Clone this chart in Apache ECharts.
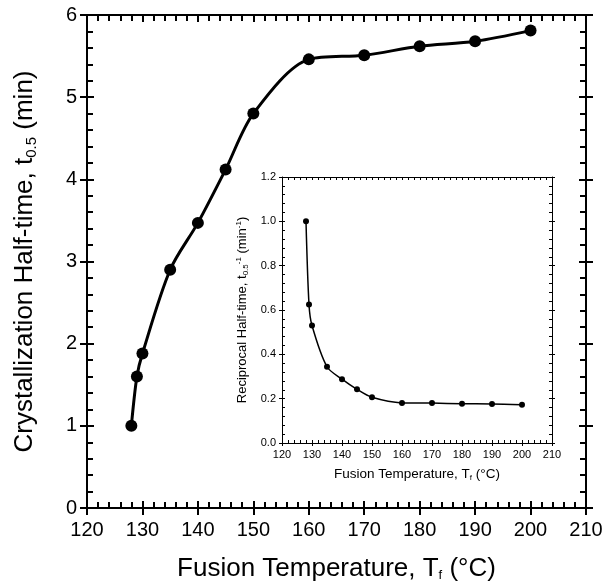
<!DOCTYPE html>
<html>
<head>
<meta charset="utf-8">
<script src="https://cdn.jsdelivr.net/npm/echarts@6/dist/echarts.min.js"></script>
<style>html,body{margin:0;padding:0;background:#fff}#c{width:613px;height:585px}</style>
</head>
<body>
<div id="c"></div>
<script>
// ---- data ----
const fusionTemp = [128, 129, 130, 135, 140, 145, 150, 160, 170, 180, 190, 200];
const halfTime = [1.0, 1.6, 1.88, 2.9, 3.47, 4.12, 4.8, 5.46, 5.51, 5.62, 5.68, 5.81];
const insetTemp = [128, 129, 130, 135, 140, 145, 150, 160, 170, 180, 190, 200];
const reciprocal = [1.0, 0.625, 0.53, 0.344, 0.288, 0.242, 0.206, 0.181, 0.180, 0.177, 0.176, 0.172];
const mainXRange = [120, 210, 10];
const mainYRange = [0, 6, 1];
const insetXRange = [120, 210, 10];
const insetYRange = [0, 1.2, 0.2];

const FONT = 'Liberation Sans, Arial, Helvetica, sans-serif';
const BLACK = '#000';

function axisSet(dim, grid, pos, range, st, label, name) {
  const base = {
    type: 'value', gridIndex: grid, position: pos,
    min: range[0], max: range[1], interval: range[2],
    splitLine: { show: false }
  };
  const ls = { color: BLACK, width: st.lw };
  const a = Object.assign({}, base, {
    axisLine: { show: true, onZero: false, lineStyle: ls },
    axisTick: { show: true, inside: true, length: st.tick, lineStyle: ls },
    minorTick: { show: true, splitNumber: st.minor, length: st.minorLen, lineStyle: ls },
    axisLabel: label ? Object.assign({ show: true, color: BLACK, fontFamily: FONT }, label) : { show: false }
  });
  if (name) Object.assign(a, name);
  const b = Object.assign({}, base, {
    axisLine: { show: false },
    axisTick: { show: true, inside: false, length: st.tick, lineStyle: ls },
    minorTick: { show: false },
    axisLabel: { show: false }
  });
  return [a, b];
}

const mainSt = { lw: 2, tick: 7, minor: 5, minorLen: 6 };
const insetSt = { lw: 1, tick: 3, minor: 5, minorLen: 3 };

const xAxes = [].concat(
  axisSet('x', 0, 'bottom', mainXRange, mainSt, { fontSize: 20, margin: 12 }, {
    name: 'Fusion Temperature, T{sub|f} (°C)', nameLocation: 'middle', nameGap: 47,
    nameTextStyle: { fontSize: 26, fontFamily: FONT, color: BLACK,
      rich: { sub: { fontSize: 13, fontFamily: FONT, color: BLACK, padding: [14, 0, 0, 0] } } }
  }),
  axisSet('x', 0, 'top', mainXRange, mainSt, null, null),
  axisSet('x', 1, 'bottom', insetXRange, insetSt, { fontSize: 11, margin: 6 }, {
    name: 'Fusion Temperature, T{sub|f} (°C)', nameLocation: 'middle', nameGap: 24,
    nameTextStyle: { fontSize: 13.5, fontFamily: FONT, color: BLACK,
      rich: { sub: { fontSize: 8, fontFamily: FONT, color: BLACK, padding: [7, 0, 0, 0] } } }
  }),
  axisSet('x', 1, 'top', insetXRange, insetSt, null, null)
);

const yAxes = [].concat(
  axisSet('y', 0, 'left', mainYRange, mainSt, { fontSize: 20, margin: 10 }, {
    name: 'Crystallization Half-time, t{sub|0.5} (min)', nameLocation: 'middle', nameGap: 48,
    nameTextStyle: { fontSize: 26, fontFamily: FONT, color: BLACK,
      rich: { sub: { fontSize: 15, fontFamily: FONT, color: BLACK, padding: [13, 0, 0, 0] } } }
  }),
  axisSet('y', 0, 'right', mainYRange, mainSt, null, null),
  axisSet('y', 1, 'left', insetYRange, insetSt, { fontSize: 11, margin: 6, formatter: v => v.toFixed(1) }, {
    name: 'Reciprocal Half-time, t{sub|0.5}{sup|-1} (min{sup|-1})', nameLocation: 'middle', nameGap: 32,
    nameTextStyle: { fontSize: 13, fontFamily: FONT, color: BLACK,
      rich: {
        sub: { fontSize: 8, fontFamily: FONT, color: BLACK, padding: [7, 0, 0, 0] },
        sup: { fontSize: 8, fontFamily: FONT, color: BLACK, padding: [0, 0, 7, 0] }
      } }
  }),
  axisSet('y', 1, 'right', insetYRange, insetSt, null, null)
);

const option = {
  backgroundColor: '#fff',
  animation: false,
  grid: [
    { left: 87, top: 15, width: 499, height: 493, containLabel: false, outerBoundsMode: 'none' },
    { left: 282, top: 177, width: 270, height: 266, containLabel: false, outerBoundsMode: 'none', show: true, backgroundColor: '#fff', borderWidth: 0 }
  ],
  xAxis: xAxes,
  yAxis: yAxes,
  series: [
    {
      type: 'line', xAxisIndex: 0, yAxisIndex: 0,
      data: fusionTemp.map((t, i) => [t, halfTime[i]]),
      smooth: 0.3, symbol: 'circle', symbolSize: 12,
      lineStyle: { color: BLACK, width: 3 }, itemStyle: { color: BLACK }
    },
    {
      type: 'line', xAxisIndex: 4, yAxisIndex: 4,
      data: insetTemp.map((t, i) => [t, reciprocal[i]]),
      smooth: 0.3, symbol: 'circle', symbolSize: 6,
      lineStyle: { color: BLACK, width: 1.5 }, itemStyle: { color: BLACK }
    }
  ]
};

const chart = echarts.init(document.getElementById('c'), null, { renderer: 'canvas' });
chart.setOption(option);
</script>
</body>
</html>
